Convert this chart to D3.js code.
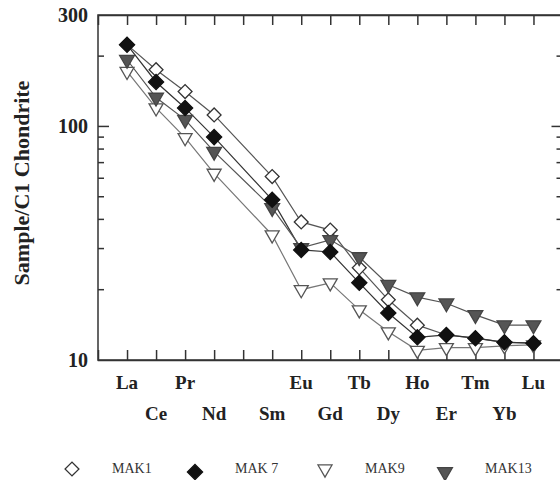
<!DOCTYPE html>
<html>
<head>
<meta charset="utf-8">
<script src="https://cdn.jsdelivr.net/npm/d3@7"></script>
<style>
  body { margin: 0; background: #fff; }
  text { font-family: "Liberation Serif", "Times New Roman", serif; }
</style>
</head>
<body>
<div id="chart"></div>
<script>
// REE positions (Pm slot kept empty)
var elements = ["La", "Ce", "Pr", "Nd", "Pm", "Sm", "Eu", "Gd", "Tb", "Dy", "Ho", "Er", "Tm", "Yb", "Lu"];
var plotted = ["La", "Ce", "Pr", "Nd", "Sm", "Eu", "Gd", "Tb", "Dy", "Ho", "Er", "Tm", "Yb", "Lu"];

// chondrite-normalised values
var mak1 = [224, 175, 141, 112, 61, 39, 36, 24.8, 18.1, 14.1, 12.8, 12.4, 11.9, 11.8];
var mak7 = [224, 155, 120, 90, 48.5, 29.6, 29, 21.4, 15.9, 12.5, 12.8, 12.4, 11.9, 11.8];
var mak9 = [172, 120, 89.5, 63, 34.3, 20, 21.4, 16.4, 13.2, 11.0, 11.3, 11.3, 11.5, 11.6];
var mak13 = [193, 133, 107, 78, 44.8, 30.2, 32.7, 27.6, 21, 18.6, 17.5, 15.6, 14.1, 14.1];

var seriesNames = ["MAK1", "MAK 7", "MAK9", "MAK13"];
var yTickLabels = [300, 100, 10];

var svgWidth = 560;
var svgHeight = 480;

var margin = { top: 15, left: 98, bottom: 120 };
var plotBottom = svgHeight - margin.bottom;

var svg = d3.select("#chart")
  .append("svg")
  .attr("width", svgWidth)
  .attr("height", svgHeight);

var xScale = d3.scaleLinear()
  .domain([-1, elements.length])
  .range([margin.left, 562.5]);

var yScale = d3.scaleLog()
  .domain([10, 300])
  .range([plotBottom, margin.top]);

var xOf = function(name) { return xScale(elements.indexOf(name)); };

// frame
var frame = svg.append("g").attr("stroke", "#333").attr("stroke-width", 1.5).attr("fill", "none");
frame.append("rect")
  .attr("x", xScale.range()[0])
  .attr("y", margin.top)
  .attr("width", xScale.range()[1] - xScale.range()[0])
  .attr("height", plotBottom - margin.top);

// x ticks, inward at top and bottom
var xTop = d3.axisTop(xScale).tickValues(d3.range(elements.length)).tickSize(-10).tickFormat("");
var xBottom = d3.axisBottom(xScale).tickValues(d3.range(elements.length)).tickSize(-10).tickFormat("");
svg.append("g").attr("transform", `translate(0,${margin.top})`).call(xTop);
svg.append("g").attr("transform", `translate(0,${plotBottom})`).call(xBottom);

// y ticks: majors at 100, minors for the rest
var minors = [20, 30, 40, 50, 60, 70, 80, 90, 200];
[xScale.range()[0], xScale.range()[1]].forEach(function(x0, i) {
  var dir = i === 0 ? 1 : -1;
  var gt = svg.append("g").attr("stroke", "#333").attr("stroke-width", 1.5);
  gt.append("line")
    .attr("x1", x0).attr("x2", x0 + dir * 11)
    .attr("y1", yScale(100)).attr("y2", yScale(100));
  gt.selectAll(".minor")
    .data(minors)
    .enter()
    .append("line")
    .attr("x1", x0).attr("x2", x0 + dir * 6)
    .attr("y1", d => yScale(d)).attr("y2", d => yScale(d));
});

svg.selectAll(".domain").attr("stroke", "#333").attr("stroke-width", 1.5);
svg.selectAll(".tick line").attr("stroke", "#333").attr("stroke-width", 1.5);

// y tick labels
svg.selectAll(".ylab")
  .data(yTickLabels)
  .enter()
  .append("text")
  .attr("x", 88)
  .attr("y", d => yScale(d) + 2)
  .attr("text-anchor", "end")
  .attr("dominant-baseline", "middle")
  .attr("font-size", "20px")
  .attr("font-weight", "bold")
  .attr("fill", "#222")
  .text(d => d);

// element labels, staggered in two rows (by slot, Pm included)
svg.selectAll(".xlab")
  .data(plotted)
  .enter()
  .append("text")
  .attr("x", d => xOf(d))
  .attr("y", d => elements.indexOf(d) % 2 === 0 ? 389 : 420)
  .attr("text-anchor", "middle")
  .attr("font-size", "19px")
  .attr("font-weight", "bold")
  .attr("fill", "#222")
  .text(d => d);

// y axis title
svg.append("text")
  .attr("transform", "translate(29,183) rotate(-90)")
  .attr("text-anchor", "middle")
  .attr("font-size", "22px")
  .attr("font-weight", "bold")
  .attr("fill", "#222")
  .text("Sample/C1 Chondrite");

// series styles
var diamond = d3.symbol().type(d3.symbolSquare);
var triangle = d3.symbol().type(d3.symbolTriangle);

var series = [
  { name: seriesNames[0], values: mak1, sym: diamond.size(96)(), rot: 45, fill: "#fff", stroke: "#333", line: "#555" },
  { name: seriesNames[1], values: mak7, sym: diamond.size(115)(), rot: 45, fill: "#111", stroke: "#111", line: "#333" },
  { name: seriesNames[2], values: mak9, sym: triangle.size(85)(), rot: 180, fill: "#fff", stroke: "#555", line: "#777" },
  { name: seriesNames[3], values: mak13, sym: triangle.size(95)(), rot: 180, fill: "#555", stroke: "#444", line: "#555" }
];

var line = d3.line()
  .x((d, i) => xOf(plotted[i]))
  .y(d => yScale(d));

series.forEach(function(s) {
  svg.append("path")
    .datum(s.values)
    .attr("d", line)
    .attr("fill", "none")
    .attr("stroke", s.line)
    .attr("stroke-width", 1.2);
});

// markers: draw order so filled diamonds sit on top
[2, 0, 3, 1].forEach(function(k) {
  var s = series[k];
  svg.append("g").selectAll("path")
    .data(s.values)
    .enter()
    .append("path")
    .attr("d", s.sym)
    .attr("transform", (d, i) => `translate(${xOf(plotted[i])},${yScale(d)}) rotate(${s.rot})`)
    .attr("fill", s.fill)
    .attr("stroke", s.stroke)
    .attr("stroke-width", 1.3);
});

// legend
var legendX = [72, 195, 325, 445];
var legend = svg.append("g");
series.forEach(function(s, i) {
  legend.append("path")
    .attr("d", s.sym)
    .attr("transform", `translate(${legendX[i]},${i % 2 === 1 ? 472 : 469}) rotate(${s.rot})`)
    .attr("fill", s.fill)
    .attr("stroke", s.stroke)
    .attr("stroke-width", 1.3);
  legend.append("text")
    .attr("x", legendX[i] + 40)
    .attr("y", 473)
    .attr("font-size", "14px")
    .attr("fill", "#333")
    .text(s.name);
});
</script>
</body>
</html>
